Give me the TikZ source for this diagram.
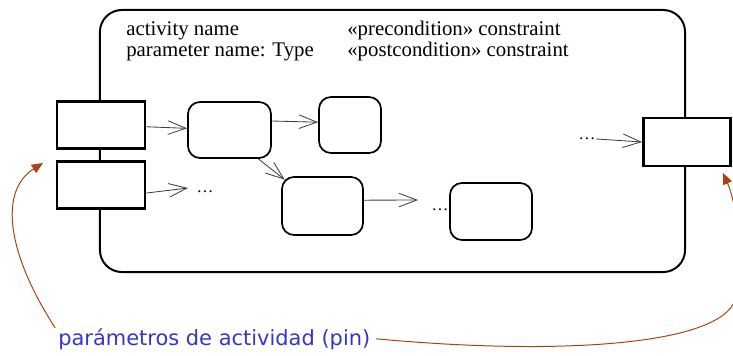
\documentclass[tikz,border=0pt]{standalone}
\usepackage{fontspec}
\setmainfont{Liberation Serif}
\newfontfamily\labelfont{DejaVu Sans}
\usepackage{tikz}
\usetikzlibrary{arrows.meta}
\definecolor{pinbrown}{HTML}{B04010}
\definecolor{pinblue}{HTML}{3535CC}

\begin{document}
\begin{tikzpicture}[x=0.025cm, y=-0.025cm, >={Straight Barb[length=4.5mm,width=3.4mm]},
frame/.style={draw, line width=1.4pt, rounded corners=0.55cm, minimum width=14.625cm, minimum height=6.55cm},
pin/.style={draw, fill=white, line width=2.1pt, minimum width=2.2cm, minimum height=1.18cm},
action/.style={draw, line width=1.2pt, rounded corners=0.3cm, minimum height=1.4cm},
flow/.style={->, draw=black!75, line width=0.6pt},
txt/.style={anchor=base west, font=\fontsize{14.8}{16}\selectfont, inner sep=0pt},
dots/.style={inner sep=0.5pt, font=\fontsize{12}{14}\selectfont},
note/.style={-{Triangle[length=2.8mm,width=2.4mm]}, draw=pinbrown, line width=0.7pt}]
\useasboundingbox (0,0) rectangle (733,356);
\node[frame] (act) at (392.5,141) {};
\node[txt] (name) at (126,35) {activity name};
\node[txt] (par) at (126,56.7) {parameter name: Type};
\node[txt] (pre) at (347,35) {«precondition» constraint};
\node[txt] (post) at (347,56.7) {«postcondition» constraint};
\node[pin] (p1) at (101,125) {};
\node[pin] (p2) at (101,185) {};
\node[pin, minimum width=2.175cm, minimum height=1.2cm] (r) at (687,142) {};
\node[action, minimum width=2.075cm] (a) at (229.5,130) {};
\node[action, minimum width=1.55cm] (b) at (350,125) {};
\node[action, minimum width=2.025cm, minimum height=1.45cm] (c) at (322.5,206) {};
\node[action, minimum width=2.05cm, minimum height=1.425cm] (d) at (491,211.5) {};
\node[dots] (dots1) at (205,192) {\dots};
\node[dots] (dots2) at (440,210) {\dots};
\node[dots] (dots3) at (587,139) {\dots};
\coordinate (e1) at (188,188);
\coordinate (e2) at (418,200);
\path
(p1) edge[flow] (a)
(a.12) edge[flow] (b.175)
(a.-45) edge[flow] ([shift={(3.5,3.5)}]c.north west)
(p2.-10) edge[flow] (e1)
(c.8) edge[flow] (e2)
(dots3.east) edge[flow] (r.west);
% nota de los pines
\node[anchor=base west, inner sep=0pt, font=\labelfont\fontsize{14.9}{16}\selectfont, text=pinblue] (lbl) at (58,345) {parámetros de actividad (pin)};
\coordinate (tipL) at (43,163);
\coordinate (tipR) at (723,173);
\draw[note] ([xshift=-2pt]lbl.north west) .. controls (5,250) and (0,190) .. (tipL);
\draw[note] ([xshift=4pt]lbl.east) .. controls (560,356) and (720,345) .. (735,300) .. controls (745,250) and (735,200) .. (tipR);
\end{tikzpicture}
\end{document}
